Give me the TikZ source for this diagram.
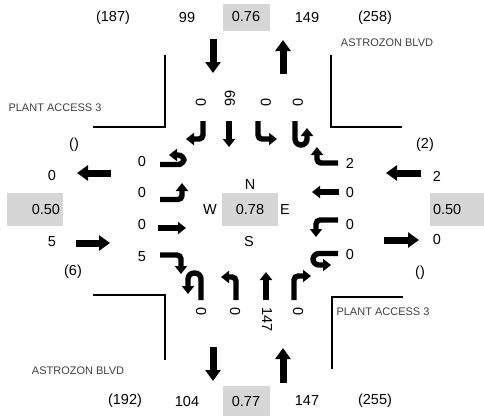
\documentclass[tikz,border=0pt]{standalone}
\usepackage{fontspec}
\setmainfont{Liberation Sans}
\usetikzlibrary{arrows.meta}

\begin{document}
\begin{tikzpicture}[x=1pt, y=-1pt, font=\fontsize{14.5}{17}\selectfont,
  lane/.style={line width=5.4pt, rounded corners=4pt, -{Triangle[width=12pt,length=8pt]}},
  uturn/.style={lane, rounded corners=6pt},
  flow/.style={line width=7pt, -{Triangle[width=15pt,length=11pt]}},
  road/.style={line width=1.3pt},
  gbox/.style={fill=black!16, inner sep=3pt, minimum height=33pt},
  street/.style={font=\fontsize{11}{13}\selectfont, text=black!75},
  vol/.style={inner sep=0pt}]
  \useasboundingbox (0,0) rectangle (484,416);
  % roads
  \draw[road] (93,127) -- (165,127) -- (165,55);
  \draw[road] (331,55) -- (331,127) -- (402,127);
  \draw[road] (93,295) -- (165,295) -- (165,360);
  \draw[road] (332,369) -- (332,297) -- (403,297);
  \node[street] (nstreet) at (387,43) {ASTROZON BLVD};
  \node[street] (sstreet) at (78,371) {ASTROZON BLVD};
  \node[street] (wstreet) at (55,108) {PLANT ACCESS 3};
  \node[street] (estreet) at (383,312) {PLANT ACCESS 3};
  % top and bottom totals
  \node (nin) at (113,18) {(187)};
  \node (nv1) at (187,18) {99};
  \node[gbox, minimum width=47pt, minimum height=27pt] (ncap) at (246,17) {0.76};
  \node (nv2) at (307,18) {149};
  \node (nout) at (375,18) {(258)};
  \node (sin) at (125,401) {(192)};
  \node (sv1) at (187,401) {104};
  \node[gbox, minimum width=47pt, minimum height=30pt] (scap) at (246,401) {0.77};
  \node (sv2) at (307,401) {147};
  \node (sout) at (375,401) {(255)};
  % west and east totals
  \node (win) at (74,145) {()};
  \node (wv1) at (52,176) {0};
  \node[gbox, text width=50pt, align=right] (wcap) at (35,209.5) {0.50};
  \node (wv2) at (52,242) {5};
  \node (wout) at (73,272) {(6)};
  \node (ein) at (425,145) {(2)};
  \node (ev1) at (437,176) {2};
  \node[gbox, text width=48pt, align=left] (ecap) at (457,209.5) {0.50};
  \node (ev2) at (437,240) {0};
  \node (eout) at (420,273) {()};
  % centre
  \node[gbox, minimum width=56pt] (icu) at (250,209.5) {0.78};
  \node (north) at (250,185) {N};
  \node (south) at (249,242) {S};
  \node (west) at (210,209.5) {W};
  \node (east) at (285,209.5) {E};
  % approach arrows
  \draw[flow] (213,39) -- (213,73);
  \draw[flow] (283,74) -- (283,40);
  \draw[flow] (213,347) -- (213,381);
  \draw[flow] (283,383) -- (283,348);
  \draw[flow] (111,173) -- (77,173);
  \draw[flow] (76,243) -- (110,243);
  \draw[flow] (421,173) -- (386,173);
  \draw[flow] (384,240) -- (419,240);
  % lane volumes
  \foreach \x/\v [count=\i] in {201/0,230/99,266/0,298/0}
    \node[vol, rotate=90, anchor=west] (nl\i) at (\x,107) {\v};
  \foreach \x/\v [count=\i] in {201/0,235/0,267/147,298/0}
    \node[vol, rotate=-90, anchor=west] (sl\i) at (\x,307) {\v};
  \foreach \y/\v [count=\i] in {162/0,193/0,225/0,257/5}
    \node (wl\i) at (142,\y) {\v};
  \foreach \y/\v [count=\i] in {163/2,193/0,225/0,255/0}
    \node (el\i) at (350,\y) {\v};
  % lane arrows
  \draw[lane] (203,121) -- (203,139) -- (186,139);
  \draw[lane] (229,121) -- (229,147);
  \draw[lane] (258,121) -- (258,139) -- (277,139);
  \draw[uturn] (295,121) -- (295,145) -- (307,145) -- (307,128);
  \draw[uturn] (160,164.5) -- (184,164.5) -- (184,155) -- (169,155);
  \draw[lane] (160,199.5) -- (182,199.5) -- (182,183);
  \draw[lane] (158,228) -- (186,228);
  \draw[lane] (160,255) -- (181,255) -- (181,274);
  \draw[lane] (338,163) -- (317,163) -- (317,147);
  \draw[lane] (339,192) -- (312,192);
  \draw[lane] (338,220) -- (316,220) -- (316,237);
  \draw[uturn] (338,253.5) -- (313,253.5) -- (313,265) -- (331,265);
  \draw[uturn] (201,300) -- (201,273) -- (188,273) -- (188,294);
  \draw[lane] (236,300) -- (236,277) -- (221,277);
  \draw[lane] (266,300) -- (266,272);
  \draw[lane] (294,300) -- (294,276) -- (311,276);
\end{tikzpicture}
\end{document}
